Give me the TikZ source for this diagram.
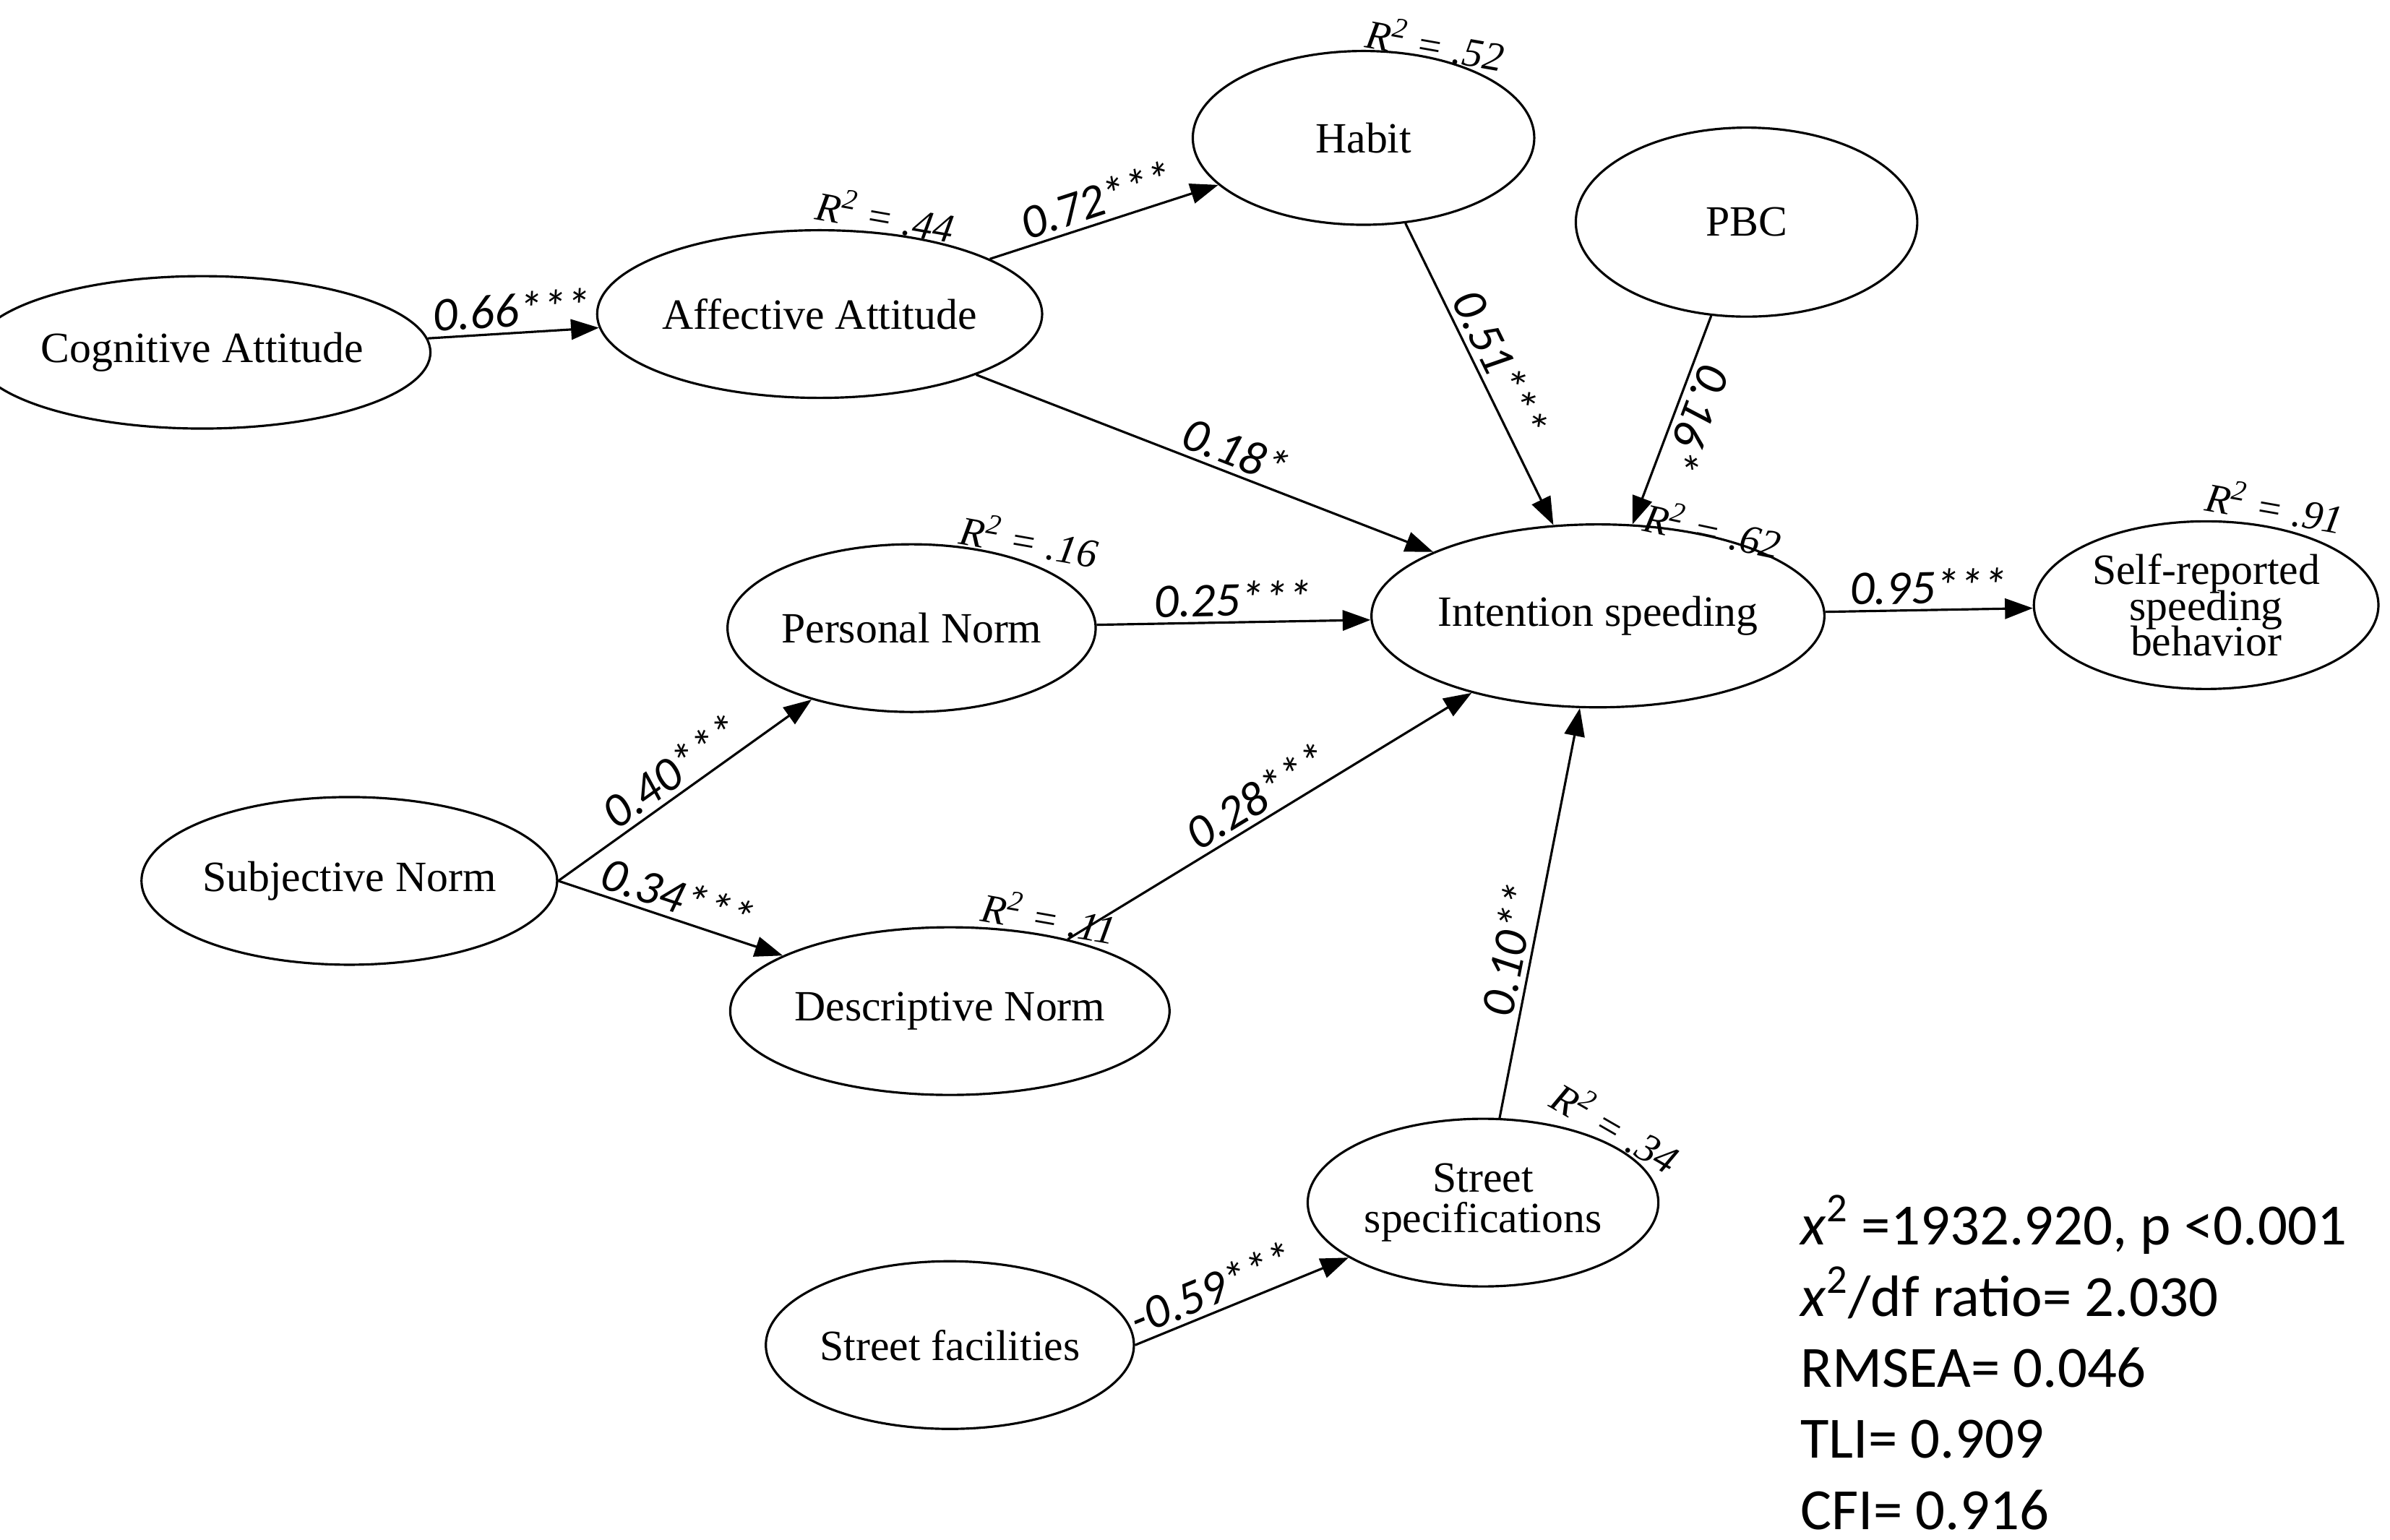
\documentclass[tikz,border=0pt]{standalone}
\usepackage{fontspec}
\setmainfont{Liberation Serif}
\newfontfamily\lbl{Carlito}
\usetikzlibrary{shapes.geometric,arrows.meta}
\begin{document}
\begin{tikzpicture}[x=0.0212cm,y=-0.0212cm,
  lv/.style 2 args={ellipse,draw,line width=0.9pt,minimum width=#1*0.6pt,minimum height=#2*0.6pt,font=\fontsize{17}{18}\selectfont,align=center,inner sep=0pt},
  ar/.style={-{Triangle[length=11pt,width=8pt]},line width=0.9pt},
  cf/.style={font=\lbl\itshape\fontsize{19}{20}\selectfont,sloped,above,inner sep=2pt},
  rsq/.style={font=\itshape\fontsize{16}{17}\selectfont,inner sep=0pt}]
\useasboundingbox (0,0) rectangle (1560,1005);
\node[lv={236}{100}] (cog) at (132,230) {Cognitive Attitude};
\node[lv={230}{110}] (aff) at (535,205) {Affective Attitude};
\node[lv={224}{114}] (hab) at (890,90) {Habit};
\node[lv={224}{124}] (pbc) at (1140,145) {PBC};
\node[lv={224}{110}] (pn) at (595,410) {Personal Norm};
\node[lv={226}{120}] (int) at (1043,402) {Intention speeding};
\node[lv={226}{110}] (self) at (1440,395) {Self-reported\\[-4pt]speeding\\[-4pt]behavior};
\node[lv={226}{110}] (sn) at (228,575) {Subjective Norm};
\node[lv={226}{110}] (dn) at (620,660) {Descriptive Norm};
\node[lv={230}{110}] (ss) at (968,785) {Street\\[-2pt]specifications};
\node[lv={226}{110}] (sf) at (620,878) {Street facilities};

\draw[ar] (cog) -- node[cf]{0.66***} (aff);
\draw[ar] (aff) -- node[cf]{0.72***} (hab);
\draw[ar] (aff) -- node[cf,pos=0.55]{0.18*} (int);
\draw[ar] (hab) -- node[cf]{0.51***} (int);
\draw[ar] (pbc) -- node[cf,pos=0.45,allow upside down]{0.16*} (int);
\draw[ar] (pn) -- node[cf]{0.25***} (int);
\draw[ar] (int) -- node[cf]{0.95***} (self);
\draw[ar] (sn.east) -- node[cf]{0.40***} (pn);
\draw[ar] (sn.east) -- node[cf]{0.34***} (dn);
\draw[ar] (dn) -- node[cf]{0.28***} (int);
\draw[ar] (ss) -- node[cf,pos=0.4]{0.10**} (int);
\draw[ar] (sf.east) -- node[cf,pos=0.4]{-0.59***} (ss);

\node[rsq,rotate=-10] (r1) at (578,140) {R\textsuperscript{2} = .44};
\node[rsq,rotate=-10] (r2) at (937,28) {R\textsuperscript{2} = .52};
\node[rsq,rotate=-12] (r3) at (1118,345) {R\textsuperscript{2} = .62};
\node[rsq,rotate=-10] (r4) at (1485,330) {R\textsuperscript{2} = .91};
\node[rsq,rotate=-10] (r5) at (672,352) {R\textsuperscript{2} = .16};
\node[rsq,rotate=-10] (r6) at (685,598) {R\textsuperscript{2} = .11};
\node[rsq,rotate=-30] (r7) at (1055,735) {R\textsuperscript{2} = .34};

\node[font=\lbl\fontsize{23}{28}\selectfont,align=left,anchor=north west,inner sep=0pt] (st) at (1175,780)
{\textit{x}\textsuperscript{2} =1932.920, p <0.001\\ \textit{x}\textsuperscript{2}/df ratio= 2.030\\ RMSEA= 0.046\\ TLI= 0.909\\ CFI= 0.916};
\end{tikzpicture}
\end{document}
